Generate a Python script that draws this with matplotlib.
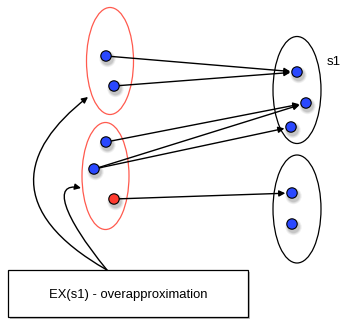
import matplotlib
matplotlib.use("Agg")
import matplotlib.pyplot as plt
from matplotlib.patches import Ellipse, Circle, FancyArrowPatch, Rectangle
from matplotlib.path import Path
import math

# ---- data (pixel coordinates of the diagram, y grows downward) ----
ellipse_centers = [(110, 61), (105.5, 176), (297, 90), (297, 209)]
ellipse_sizes = [(47, 107), (47, 107), (48, 107), (48, 108)]
ellipse_colors = ["#ff5a4e", "#ff5a4e", "black", "black"]

dots = [(106, 56), (114, 86), (106, 142), (94, 169), (114, 199),
        (297, 72), (306, 103), (291, 127), (292, 193), (292, 224)]
dot_colors = ["#2a48ff"] * 4 + ["#ff3b2f"] + ["#2a48ff"] * 5

edges = [(0, 5), (1, 5), (2, 6), (3, 6), (3, 7), (4, 8)]

label_s1 = "s1"
box_text = "EX(s1) - overapproximation"

W, H = 340, 319
fig = plt.figure(figsize=(W / 100, H / 100), dpi=100)
ax = fig.add_axes([0, 0, 1, 1])
ax.set_xlim(0, W)
ax.set_ylim(H, 0)
ax.axis("off")

# ellipses
for (cx, cy), (w, h), c in zip(ellipse_centers, ellipse_sizes, ellipse_colors):
    ax.add_patch(Ellipse((cx, cy), w, h, fill=False, edgecolor=c, lw=0.9, zorder=2))

R = 5.2

def shrink_point(p, q, d):
    dx, dy = q[0] - p[0], q[1] - p[1]
    L = math.hypot(dx, dy)
    return (q[0] - dx / L * d, q[1] - dy / L * d)

# edges
for a, b in edges:
    p, q = dots[a], dots[b]
    q2 = shrink_point(p, q, R + 1.5)
    ax.add_patch(FancyArrowPatch(p, q2, arrowstyle="-|>", mutation_scale=9,
                                 lw=1.0, color="black", shrinkA=0, shrinkB=0, zorder=3))

# dots with soft shadow
for (x, y), c in zip(dots, dot_colors):
    for k, al in [(3.0, 0.06), (2.0, 0.08), (1.0, 0.10)]:
        ax.add_patch(Circle((x + 1.5, y + 3), R + k, color="black", alpha=al, lw=0, zorder=4))
    ax.add_patch(Circle((x, y), R, facecolor=c, edgecolor="black", lw=0.8, zorder=5))

# curved arrows from box
curves = [
    [(107, 270), (5, 212), (20, 150), (88, 97)],
    [(107, 270), (62, 215), (52, 182), (81, 188)],
]
for pts in curves:
    path = Path(pts, [Path.MOVETO, Path.CURVE4, Path.CURVE4, Path.CURVE4])
    ax.add_patch(FancyArrowPatch(path=path, arrowstyle="-|>", mutation_scale=9,
                                 lw=1.0, color="black", zorder=3))

# text box with shadow
ax.add_patch(Rectangle((10, 272), 240, 47, facecolor="black", alpha=0.25, lw=0, zorder=5))
ax.add_patch(Rectangle((8, 270), 240, 47, facecolor="white", edgecolor="black", lw=0.9, zorder=6))
ax.text(128, 295, box_text, ha="center", va="center", fontsize=9.4,
        family="Liberation Sans", zorder=7)

ax.text(327, 62, label_s1, ha="left", va="center", fontsize=9.5,
        family="Liberation Sans")

fig.savefig("out.png", dpi=100)
